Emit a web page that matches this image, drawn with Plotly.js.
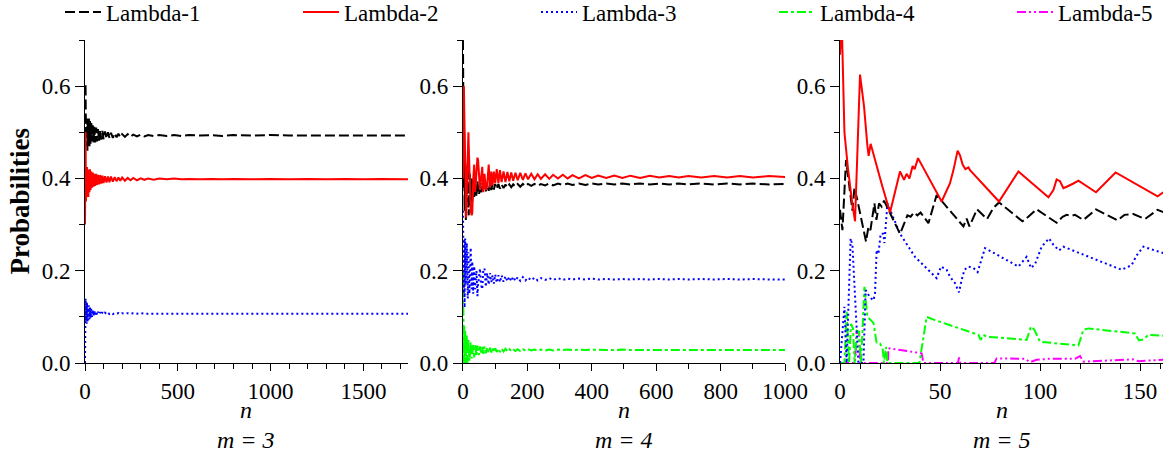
<!DOCTYPE html>
<html>
<head>
<meta charset="utf-8">
<script src="https://cdn.plot.ly/plotly-3.0.1.min.js"></script>
<style>
html,body{margin:0;padding:0;background:#fff;}
#chart{width:1163px;height:452px;}
#chart text, #chart tspan { font-family: 'Liberation Serif' !important; }
</style>
</head>
<body>
<div id="chart"></div>
<script>
// ---------- Panel m = 3 ----------
const m3_n = [0,3,5,7,9,11,13,15,18,21,24,27,30,34,38,42,46,50,55,60,65,70,76,82,88,94,100,108,116,124,132,140,150,160,170,180,190,200,215,230,245,260,280,300,320,340,370,400,440,480,520,560,620,680,740,800,900,1000,1100,1200,1300,1400,1500,1600,1750];
const m3_lambda1 = [0.60,0.60,0.50,0.53,0.47,0.53,0.46,0.52,0.47,0.53,0.47,0.525,0.475,0.52,0.48,0.515,0.475,0.512,0.478,0.51,0.48,0.507,0.482,0.505,0.484,0.503,0.485,0.502,0.486,0.500,0.487,0.499,0.488,0.498,0.489,0.497,0.489,0.496,0.490,0.496,0.490,0.495,0.491,0.495,0.491,0.494,0.492,0.494,0.492,0.494,0.492,0.494,0.493,0.494,0.492,0.494,0.493,0.494,0.493,0.493,0.494,0.493,0.493,0.493,0.493];
const m3_lambda2 = [0.30,0.50,0.35,0.42,0.35,0.425,0.36,0.42,0.36,0.418,0.37,0.42,0.375,0.415,0.38,0.413,0.382,0.41,0.384,0.41,0.386,0.408,0.387,0.407,0.389,0.406,0.39,0.405,0.391,0.404,0.392,0.404,0.393,0.403,0.394,0.402,0.395,0.402,0.395,0.401,0.396,0.401,0.396,0.400,0.397,0.400,0.397,0.400,0.398,0.400,0.398,0.399,0.398,0.399,0.398,0.399,0.398,0.399,0.398,0.399,0.398,0.399,0.398,0.399,0.398];
const m3_lambda3 = [0.0,0.14,0.09,0.135,0.085,0.13,0.09,0.125,0.093,0.125,0.095,0.12,0.097,0.118,0.1,0.115,0.101,0.113,0.103,0.112,0.104,0.111,0.105,0.110,0.105,0.110,0.106,0.109,0.106,0.109,0.106,0.108,0.106,0.108,0.107,0.108,0.106,0.108,0.107,0.108,0.107,0.108,0.107,0.108,0.107,0.107,0.108,0.107,0.108,0.107,0.107,0.107,0.107,0.107,0.107,0.107,0.107,0.107,0.107,0.107,0.107,0.107,0.107,0.107,0.107];

// ---------- Panel m = 4 ----------
const m4_n = [0,1,2,3,4,5,7,9,10,12,14,15,17,18,20,21,24,27,29,32,35,38,42,45,47,50,53,56,60,63,67,71,75,80,84,88,92,96,100,105,110,115,120,126,132,138,144,150,156,163,170,178,186,194,202,212,222,232,242,255,268,280,295,310,325,340,360,380,400,420,445,470,495,520,550,580,610,640,670,700,740,780,820,860,900,950,1000];
const m4_lambda1 = [0.70,0.50,0.62,0.38,0.50,0.33,0.42,0.31,0.34,0.40,0.43,0.42,0.33,0.32,0.40,0.41,0.34,0.40,0.35,0.40,0.36,0.40,0.36,0.395,0.37,0.365,0.39,0.37,0.39,0.37,0.39,0.372,0.39,0.373,0.39,0.375,0.388,0.376,0.388,0.377,0.388,0.378,0.387,0.379,0.387,0.38,0.387,0.381,0.387,0.382,0.388,0.382,0.388,0.383,0.388,0.384,0.388,0.384,0.388,0.385,0.389,0.385,0.389,0.386,0.389,0.386,0.389,0.386,0.389,0.387,0.389,0.387,0.389,0.387,0.389,0.387,0.389,0.387,0.389,0.387,0.389,0.387,0.389,0.387,0.389,0.387,0.388];
const m4_lambda2 = [0.40,0.50,0.58,0.60,0.55,0.50,0.40,0.33,0.315,0.38,0.45,0.48,0.50,0.47,0.40,0.37,0.33,0.32,0.325,0.40,0.43,0.37,0.42,0.445,0.44,0.39,0.375,0.40,0.425,0.37,0.41,0.375,0.385,0.43,0.38,0.415,0.385,0.415,0.39,0.42,0.39,0.418,0.392,0.415,0.392,0.414,0.394,0.413,0.395,0.412,0.396,0.412,0.397,0.411,0.398,0.41,0.398,0.409,0.399,0.409,0.399,0.408,0.400,0.408,0.400,0.407,0.400,0.407,0.401,0.406,0.401,0.406,0.401,0.406,0.401,0.406,0.402,0.405,0.402,0.405,0.402,0.405,0.402,0.405,0.402,0.405,0.403];
const m4_lambda3 = [0.33,0.22,0.30,0.15,0.27,0.12,0.27,0.17,0.20,0.26,0.15,0.14,0.24,0.22,0.15,0.17,0.25,0.16,0.22,0.15,0.21,0.16,0.20,0.145,0.17,0.19,0.205,0.17,0.16,0.20,0.205,0.165,0.195,0.17,0.195,0.175,0.19,0.172,0.192,0.174,0.19,0.175,0.19,0.176,0.188,0.177,0.187,0.177,0.187,0.178,0.186,0.178,0.186,0.179,0.185,0.179,0.185,0.179,0.184,0.180,0.184,0.180,0.184,0.180,0.183,0.181,0.183,0.181,0.183,0.181,0.182,0.181,0.182,0.181,0.182,0.181,0.182,0.181,0.182,0.181,0.182,0.181,0.182,0.181,0.182,0.181,0.181];
const m4_lambda4 = [0.20,0.0,0.09,0.0,0.08,0.01,0.07,0.0,0.03,0.06,0.0,0.02,0.05,0.04,0.005,0.01,0.045,0.01,0.02,0.04,0.012,0.04,0.015,0.038,0.02,0.018,0.036,0.02,0.035,0.02,0.036,0.021,0.034,0.022,0.033,0.023,0.032,0.023,0.032,0.024,0.031,0.024,0.031,0.025,0.031,0.025,0.030,0.026,0.030,0.026,0.030,0.026,0.030,0.027,0.030,0.027,0.029,0.027,0.029,0.027,0.029,0.027,0.029,0.028,0.029,0.028,0.029,0.028,0.029,0.028,0.028,0.028,0.029,0.028,0.028,0.028,0.029,0.028,0.028,0.028,0.028,0.028,0.028,0.028,0.028,0.028,0.028];

// ---------- Panel m = 5 ----------
const m5_lambda1_n = [0,1.2,3,6.2,7.2,8.8,13,14.2,15.2,17.2,18.2,19.5,20.8,22,30,32.5,33.7,35.3,37,38.7,40.3,44.2,48.3,61.7,63.3,64.7,68.5,73.5,76.7,79.5,91.2,92.8,98.3,108.3,111.3,113.3,115.8,117.5,121.7,128,138.8,142.2,146.7,152.5,158.8,161.7];
const m5_lambda1 = [0.332,0.288,0.44,0.33,0.38,0.35,0.263,0.295,0.288,0.346,0.31,0.346,0.339,0.352,0.28,0.31,0.32,0.317,0.326,0.32,0.326,0.303,0.364,0.296,0.313,0.296,0.333,0.312,0.336,0.348,0.307,0.312,0.333,0.304,0.317,0.321,0.319,0.321,0.31,0.333,0.309,0.321,0.323,0.312,0.332,0.327];
const m5_lambda2_n = [0,0.8,2.2,4,6,7.5,10,12,13.7,14.3,15.3,18,21,25,30,32,33.3,34.7,36.3,37.3,39,50.8,55,56.7,58.8,60,61.3,62.7,64.2,65,79.5,89.2,104.2,106.7,108.3,110,111.7,113.3,115,116.7,119.2,128,137.8,158.8,161.7];
const m5_lambda2 = [0.668,0.75,0.50,0.42,0.35,0.307,0.625,0.556,0.47,0.449,0.475,0.43,0.385,0.326,0.415,0.397,0.41,0.40,0.427,0.42,0.444,0.35,0.39,0.418,0.46,0.45,0.43,0.42,0.424,0.418,0.35,0.415,0.359,0.375,0.398,0.394,0.379,0.382,0.385,0.389,0.395,0.37,0.413,0.361,0.37];
const m5_lambda3_n = [0,2.2,3.3,5.3,6.2,9.2,11.7,12.8,14.2,15.5,16.8,17.5,18.3,19.2,20.3,21.7,22.2,23.7,30,37.5,48.3,50.5,53.3,55,57.5,59.5,60.8,62.2,64.2,66.7,68.8,72.5,89.2,93.3,95.5,97.5,100.8,104.5,106.7,109.5,111.7,140.8,145.8,148.3,151.7,161.7];
const m5_lambda3 = [0.0,0.122,0.0,0.27,0.255,0.0,0.0,0.158,0.148,0.14,0.136,0.152,0.245,0.236,0.28,0.28,0.26,0.346,0.28,0.23,0.184,0.209,0.202,0.187,0.173,0.153,0.18,0.202,0.209,0.206,0.197,0.249,0.209,0.23,0.206,0.214,0.252,0.27,0.256,0.244,0.252,0.202,0.212,0.233,0.252,0.238];
const m5_lambda4_n = [0,2.2,3.3,4.5,5.5,6.5,7.3,8.5,9.5,10.5,12.2,13.7,16.7,18.3,20,21.3,22,23,23.7,39.7,43.3,47.5,69.2,70.3,71.7,73.3,93.3,95.5,97.2,100,119.2,121.7,124.2,147.5,149.5,151.7,154.2,161.7];
const m5_lambda4 = [0,0,0.111,0,0.085,0.075,0,0.07,0.068,0,0.165,0.10,0.087,0.044,0.042,0.032,0,0.035,0,0,0.1,0.093,0.061,0.05,0.061,0.057,0.05,0.079,0.072,0.046,0.038,0.072,0.075,0.064,0.049,0.051,0.061,0.059];
const m5_lambda5_n = [0,7.5,8.3,9.5,10,24,24.2,40.8,41.7,59,59.5,60.2,77.2,78.3,92.5,95,98.3,104.2,110,117.5,120,121.7,137.5,146.7,149.2,154.2,161.7];
const m5_lambda5 = [0,0,0.068,0.065,0,0,0.032,0.021,0,0,0.012,0,0,0.01,0.009,0.002,0.007,0.009,0.009,0.009,0.015,0.003,0.006,0.008,0.004,0.005,0.007];

// ---------- Labels ----------
const seriesNames = ['Lambda-1','Lambda-2','Lambda-3','Lambda-4','Lambda-5'];
const panelLabels = ['m = 3','m = 4','m = 5'];
const xTitle = 'n';
const yTitle = 'Probabilities';

const SERIF = 'Liberation Serif';
const lineStyles = [
  {color:'#000000', dash:'10px,4px', width:2},
  {color:'#ff0000', dash:'solid', width:2},
  {color:'#0000ff', dash:'2px,3px', width:2},
  {color:'#00ff00', dash:'9px,3px,3px,3px', width:2},
  {color:'#ff00ff', dash:'9px,3px,2px,3px,2px,3px', width:2}
];

function makeTrace(x, y, k, ax, show, lw){
  const t = {x:x, y:y, type:'scatter', mode:'lines', name:seriesNames[k], legendgroup:seriesNames[k],
    showlegend:show, line:{color:lineStyles[k].color, dash:lineStyles[k].dash, width:lineStyles[k].width},
    xaxis:'x'+ax, yaxis:'y'+ax, hoverinfo:'skip'};
  if(lw) t.legendwidth = lw;
  return t;
}

const traces = [
  makeTrace(m3_n, m3_lambda1, 0, '', true),
  makeTrace(m3_n, m3_lambda2, 1, '', true),
  makeTrace(m3_n, m3_lambda3, 2, '', true),
  makeTrace(m4_n, m4_lambda4, 3, '2', true),
  makeTrace(m5_lambda5_n, m5_lambda5, 4, '3', true, 95),
  makeTrace(m4_n, m4_lambda3, 2, '2', false),
  makeTrace(m4_n, m4_lambda1, 0, '2', false),
  makeTrace(m4_n, m4_lambda2, 1, '2', false),
  makeTrace(m5_lambda4_n, m5_lambda4, 3, '3', false),
  makeTrace(m5_lambda3_n, m5_lambda3, 2, '3', false),
  makeTrace(m5_lambda1_n, m5_lambda1, 0, '3', false),
  makeTrace(m5_lambda2_n, m5_lambda2, 1, '3', false)
];

function xax(domain, range, dtick, minor, anchor){
  return {domain:domain, range:range, dtick:dtick, tick0:0, anchor:anchor,
    showline:true, linecolor:'#000', linewidth:1, ticks:'outside', ticklen:7, tickwidth:1, tickcolor:'#000',
    showgrid:false, zeroline:false, tickfont:{family:SERIF, size:23, color:'#000'},
    minor:{dtick:minor, tick0:0, ticks:'outside', ticklen:5, tickwidth:1, tickcolor:'#000', showgrid:false}};
}
function yax(anchor){
  return {domain:[0,1], range:[0,0.7], dtick:0.2, tick0:0, tickformat:'.1f', anchor:anchor,
    showline:true, linecolor:'#000', linewidth:1, ticks:'outside', ticklen:9, tickwidth:1, tickcolor:'#000',
    showgrid:false, zeroline:false, tickfont:{family:SERIF, size:23, color:'#000'},
    minor:{dtick:0.1, tick0:0, ticks:'outside', ticklen:5, tickwidth:1, tickcolor:'#000', showgrid:false}};
}

const notes = [];
['x','x2','x3'].forEach(function(ax, i){
  notes.push({xref:ax+' domain', yref:'paper', x:0.5, y:-0.1455, xanchor:'center', yanchor:'middle',
    text:'<i>'+xTitle+'</i>', showarrow:false, font:{family:SERIF, size:24, color:'#000'}});
  notes.push({xref:ax+' domain', yref:'paper', x:0.5, y:-0.238, xanchor:'center', yanchor:'middle',
    text:'<i>'+panelLabels[i]+'</i>', showarrow:false, font:{family:SERIF, size:24, color:'#000'}});
});
notes.push({xref:'paper', yref:'paper', x:-0.0612, y:0.5, xanchor:'center', yanchor:'middle', textangle:-90,
  text:'<b>'+yTitle+'</b>', showarrow:false, font:{family:SERIF, size:27, color:'#000'}});

const chartLayout = {
  width:1163, height:452,
  margin:{l:85, r:0, t:40, b:89, autoexpand:false},
  paper_bgcolor:'#fff', plot_bgcolor:'#fff',
  showlegend:true,
  legend:{orientation:'h', x:-0.0232, xanchor:'left', y:1.0867, yanchor:'middle',
    font:{family:SERIF, size:23, color:'#000'}, itemwidth:36, entrywidth:187, entrywidthmode:'pixels',
    bgcolor:'rgba(0,0,0,0)', borderwidth:0, tracegroupgap:0},
  xaxis: xax([0,0.2996],[0,1740],500,100,'y'),
  yaxis: yax('x'),
  xaxis2: xax([0.3506,0.6494],[0,1000],200,100,'y2'),
  yaxis2: yax('x2'),
  xaxis3: xax([0.7004,1],[0,161.5],50,10,'y3'),
  yaxis3: yax('x3'),
  annotations: notes
};

Plotly.newPlot('chart', traces, chartLayout, {staticPlot:true});
</script>
</body>
</html>
